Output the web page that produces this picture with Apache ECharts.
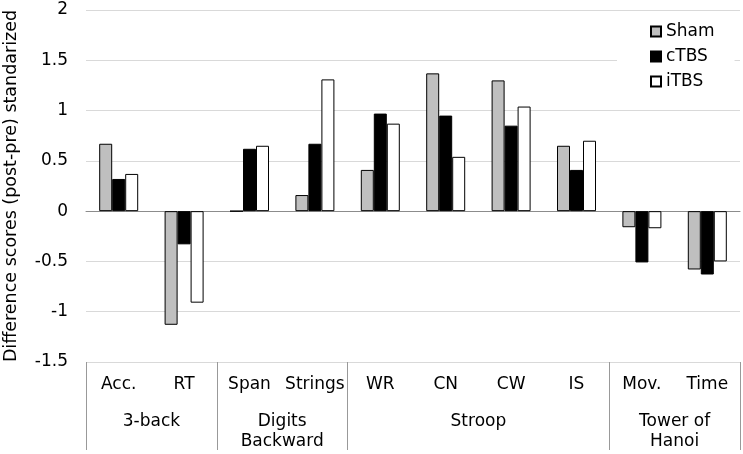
<!DOCTYPE html>
<html>
<head>
<meta charset="utf-8">
<script src="https://cdn.jsdelivr.net/npm/echarts@6/dist/echarts.min.js"></script>
<style>
  html, body { margin: 0; padding: 0; background: #fff; }
  #chart { width: 743px; height: 454px; }
</style>
</head>
<body>
<div id="chart"></div>
<script>
// categories and group labels under the axis
var categories = ['Acc.', 'RT', 'Span', 'Strings', 'WR', 'CN', 'CW', 'IS', 'Mov.', 'Time'];
var groupLabels = ['', '3-back', '', 'Digits\nBackward', '', '', 'Stroop', '', '', 'Tower of\nHanoi', ''];
var groupEdges = [0, 2, 4, 8, 10];

// difference scores
var shamData = [0.67, -1.13, 0, 0.16, 0.41, 1.37, 1.30, 0.65, -0.16, -0.58];
var ctbsData = [0.32, -0.33, 0.62, 0.67, 0.97, 0.95, 0.85, 0.41, -0.51, -0.63];
var itbsData = [0.37, -0.91, 0.65, 1.31, 0.87, 0.54, 1.04, 0.70, -0.17, -0.50];

(function () {
  var chart = echarts.init(document.getElementById('chart'));
  var font = 'DejaVu Sans, Verdana, sans-serif';

  function barSeries(name, data, color) {
    return {
      name: name,
      type: 'bar',
      xAxisIndex: 0,
      yAxisIndex: 0,
      data: data,
      barWidth: 13,
      barGap: '0%',
      itemStyle: {
        color: color,
        borderColor: '#000',
        borderWidth: 1
      }
    };
  }

  var option = {
    animation: false,
    textStyle: { fontFamily: font },
    legend: {
      orient: 'vertical',
      left: 617,
      top: 18,
      padding: [5, 20, 5, 33],
      backgroundColor: '#fff',
      itemWidth: 10,
      itemHeight: 10,
      itemGap: 8,
      icon: 'rect',
      textStyle: { fontSize: 17, color: '#000', fontFamily: font },
      data: ['Sham', 'cTBS', 'iTBS']
    },
    grid: [
      { left: 86, right: 3, top: 10, bottom: 92, outerBoundsMode: 'none', containLabel: false },
      { left: 86, right: 3, top: 362, bottom: 4, outerBoundsMode: 'none', containLabel: false }
    ],
    xAxis: [
      {
        // bars + zero line
        type: 'category',
        gridIndex: 0,
        data: categories,
        axisLine: { onZero: true, lineStyle: { color: '#8c8c8c', width: 1 } },
        axisTick: { show: false },
        axisLabel: { show: false },
        splitLine: { show: false }
      },
      {
        // category labels at the bottom
        type: 'category',
        gridIndex: 0,
        position: 'bottom',
        data: categories,
        axisLine: { show: false, onZero: false },
        axisTick: { show: false },
        axisLabel: { interval: 0, margin: 14, fontSize: 17, color: '#000', fontFamily: font },
        splitLine: { show: false }
      },
      {
        // group labels
        type: 'category',
        gridIndex: 0,
        position: 'bottom',
        boundaryGap: false,
        data: groupLabels,
        axisLine: { show: false, onZero: false },
        axisTick: { show: false },
        axisLabel: { interval: 0, margin: 50, fontSize: 17, lineHeight: 20, color: '#000', fontFamily: font },
        splitLine: { show: false }
      },
      {
        // separators of the groups
        type: 'category',
        gridIndex: 1,
        boundaryGap: false,
        data: groupLabels,
        axisLine: { show: false },
        axisTick: { show: false },
        axisLabel: { show: false },
        splitLine: {
          show: true,
          interval: function (index) {
            return groupEdges.indexOf(index) >= 0;
          },
          lineStyle: { color: '#999', width: 1 }
        }
      }
    ],
    yAxis: [
      {
        type: 'value',
        gridIndex: 0,
        min: -1.5,
        max: 2,
        interval: 0.5,
        name: 'Difference scores (post-pre) standarized',
        nameLocation: 'middle',
        nameGap: 66,
        nameTextStyle: { fontSize: 17.5, color: '#000', fontFamily: font },
        axisLine: { show: false },
        axisTick: { show: false },
        axisLabel: { margin: 18, fontSize: 17, color: '#000', fontFamily: font },
        splitLine: { lineStyle: { color: '#d9d9d9', width: 1 } }
      },
      {
        type: 'value',
        gridIndex: 1,
        min: 0,
        max: 1,
        show: false
      }
    ],
    series: [
      barSeries('Sham', shamData, '#bfbfbf'),
      barSeries('cTBS', ctbsData, '#000'),
      barSeries('iTBS', itbsData, '#fff')
    ]
  };

  chart.setOption(option);
  window.addEventListener('resize', function () {
    chart.resize();
  });
})();
</script>
</body>
</html>
